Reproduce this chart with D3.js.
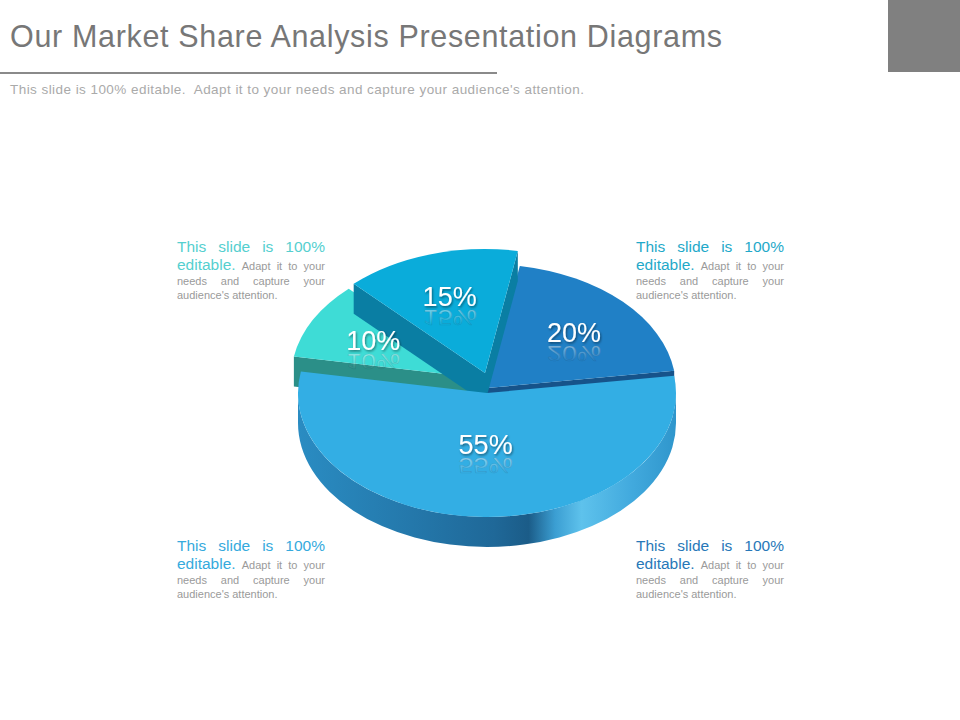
<!DOCTYPE html>
<html>
<head>
<meta charset="utf-8">
<script src="https://cdn.jsdelivr.net/npm/d3@7/dist/d3.min.js"></script>
<style>
	body { margin: 0; background: #fff; }
	svg { display: block; font-family: "Liberation Sans", Arial, sans-serif; }
</style>
</head>
<body>
<svg id="chart" width="960" height="720"></svg>
<script>
// slices, clockwise
var labels = ["20%", "55%", "10%", "15%"]
var shares = [20, 55, 10, 15]

// look of each slice (same order as above)
var topColors = ["#2080c6", "#33aee4", "#3edcd6", "#0aacda"]
var wallColors = ["#16538a", "#2179ad", "#2b8f88", "#0a7ea3"]
var shift = [[0, 0], [0, 5], [-7, -10], [-2, -15]]  // explode offset in px
var drawOrder = [0, 2, 3, 1]                       // back to front
var startDeg = 10

// colour of the heading line of the four note blocks
var noteColors = ["#55cfcf", "#1fa9c9", "#35aadd", "#2778b8"]

var svg = d3.select("#chart")
var cx = 487, cy = 388, rx = 189, ry = 124, depth = 30

var defs = svg.append("defs")

// shading of the front wall of the big slice
var wallGrad = defs.append("linearGradient")
	.attr("id", "wallGrad")
	.attr("gradientUnits", "userSpaceOnUse")
	.attr("x1", cx - rx).attr("x2", cx + rx).attr("y1", 0).attr("y2", 0)
var wallStops = [[0, "#2a8cc2"], [0.3, "#2478ab"], [0.52, "#1f6898"], [0.61, "#1b5c88"],
	[0.68, "#3b9ed2"], [0.75, "#5ec2ec"], [0.88, "#42aade"], [1, "#2f96cc"]]
wallStops.forEach(function(s) {
	wallGrad.append("stop").attr("offset", s[0]).attr("stop-color", s[1])
})

// fading reflection under the labels
var reflGrad = defs.append("linearGradient")
	.attr("id", "reflGrad")
	.attr("x1", 0).attr("x2", 0).attr("y1", 0).attr("y2", 1)
reflGrad.append("stop").attr("offset", 0.2).attr("stop-color", "#fff").attr("stop-opacity", 0)
reflGrad.append("stop").attr("offset", 1).attr("stop-color", "#fff").attr("stop-opacity", 0.55)

defs.append("filter").attr("id", "shadow")
	.attr("x", "-20%").attr("y", "-20%").attr("width", "140%").attr("height", "140%")
	.append("feDropShadow")
	.attr("dx", 1).attr("dy", 1.5).attr("stdDeviation", 1)
	.attr("flood-color", "#000").attr("flood-opacity", 0.45)

// header
svg.append("rect")
	.attr("x", 888).attr("y", 0).attr("width", 72).attr("height", 72)
	.attr("fill", "#808080")
svg.append("text")
	.attr("x", 10).attr("y", 47)
	.attr("font-size", 30.5)
	.attr("fill", "#777")
	.attr("textLength", 712)
	.attr("lengthAdjust", "spacing")
	.text("Our Market Share Analysis Presentation Diagrams")
svg.append("line")
	.attr("x1", 0).attr("x2", 497).attr("y1", 73).attr("y2", 73)
	.attr("stroke", "#8a8a8a").attr("stroke-width", 2)
svg.append("text")
	.attr("x", 10).attr("y", 94)
	.attr("font-size", 13.5)
	.attr("fill", "#aaa")
	.attr("textLength", 574)
	.attr("lengthAdjust", "spacing")
	.attr("xml:space", "preserve")
	.text("This slide is 100% editable.  Adapt it to your needs and capture your audience's attention.")

/*
 * Point on the tilted pie.
 * a: angle, r: fraction of radius, z: 0 top face, 1 bottom face, s: offset
 */
function pt(a, r, z, s) {
	var x = cx + s[0] + r * rx * Math.sin(a)
	var y = cy + s[1] - r * ry * Math.cos(a) + z * depth
	return x.toFixed(2) + "," + y.toFixed(2)
}

function topPath(d, s) {
	var large = d.endAngle - d.startAngle > Math.PI ? 1 : 0
	return "M" + pt(0, 0, 0, s) + "L" + pt(d.startAngle, 1, 0, s) +
		"A" + rx + "," + ry + " 0 " + large + " 1 " + pt(d.endAngle, 1, 0, s) + "Z"
}

// outer wall, only the part that faces the viewer
function outerPath(d, s) {
	var a0 = Math.max(d.startAngle, Math.PI / 2)
	var a1 = Math.min(d.endAngle, 3 * Math.PI / 2)
	if(a0 >= a1) return null
	var large = a1 - a0 > Math.PI ? 1 : 0
	return "M" + pt(a0, 1, 0, s) +
		"A" + rx + "," + ry + " 0 " + large + " 1 " + pt(a1, 1, 0, s) +
		"L" + pt(a1, 1, 1, s) +
		"A" + rx + "," + ry + " 0 " + large + " 0 " + pt(a0, 1, 1, s) + "Z"
}

function sidePath(a, s) {
	return "M" + pt(0, 0, 0, s) + "L" + pt(a, 1, 0, s) + "L" + pt(a, 1, 1, s) +
		"L" + pt(0, 0, 1, s) + "Z"
}

var start = startDeg * Math.PI / 180
var arcs = d3.pie()
	.sort(null)
	.startAngle(start)
	.endAngle(start + 2 * Math.PI)
	.value(function(d) { return d })(shares)

var pie = svg.append("g")
drawOrder.forEach(function(i) {
	var d = arcs[i], s = shift[i]
	var g = pie.append("g")
	// radial walls that face us
	if(Math.sin(d.startAngle) < -0.01)
		g.append("path").attr("d", sidePath(d.startAngle, s)).attr("fill", wallColors[i])
	if(Math.sin(d.endAngle) > 0.01)
		g.append("path").attr("d", sidePath(d.endAngle, s)).attr("fill", wallColors[i])
	var op = outerPath(d, s)
	if(op)
		g.append("path").attr("d", op)
			.attr("fill", i == 1 ? "url(#wallGrad)" : wallColors[i])
	g.append("path").attr("d", topPath(d, s)).attr("fill", topColors[i])
})

// labels, each with a faint mirrored copy underneath
arcs.forEach(function(d, i) {
	var a = (d.startAngle + d.endAngle) / 2
	var r = shares[i] > 30 ? 0.42 : 0.64
	var x = cx + shift[i][0] + r * rx * Math.sin(a)
	var y = cy + shift[i][1] - r * ry * Math.cos(a) + 9
	defs.append("text")
		.attr("id", "lbl" + i)
		.attr("text-anchor", "middle")
		.attr("font-size", 27)
		.text(labels[i])
	svg.append("use")
		.attr("href", "#lbl" + i)
		.attr("transform", "translate(" + x + "," + (y + 4) + ") scale(1,-0.8)")
		.attr("fill", "url(#reflGrad)")
		.attr("stroke", "rgba(40,60,80,0.18)")
		.attr("stroke-width", 0.8)
	svg.append("use")
		.attr("href", "#lbl" + i)
		.attr("transform", "translate(" + x + "," + y + ")")
		.attr("fill", "#fff")
		.attr("filter", "url(#shadow)")
})

/*
 * Note block with justified lines.
 * Each word: [text, big?]; last line is left aligned.
 */
var noteLines = [
	[["This", 1], ["slide", 1], ["is", 1], ["100%", 1]],
	[["editable.", 1], ["Adapt", 0], ["it", 0], ["to", 0], ["your", 0]],
	[["needs", 0], ["and", 0], ["capture", 0], ["your", 0]],
	[["audience's", 0], ["attention.", 0]]
]
var lineGap = [0, 18, 33, 47]

function note(x0, y0, color) {
	var w = 148
	var g = svg.append("g")
	noteLines.forEach(function(line, li) {
		var nodes = line.map(function(wd) {
			return g.append("text")
				.attr("y", y0 + lineGap[li])
				.attr("font-size", wd[1] ? 15.5 : 11)
				.attr("fill", wd[1] ? color : "#9a9a9a")
				.text(wd[0])
		})
		var widths = nodes.map(function(n) { return n.node().getComputedTextLength() })
		var total = d3.sum(widths)
		var gap = li == noteLines.length - 1 ? 3 : (w - total) / (nodes.length - 1)
		var x = x0
		nodes.forEach(function(n, k) {
			n.attr("x", x)
			x += widths[k] + gap
		})
	})
}

note(177, 252, noteColors[0])
note(636, 252, noteColors[1])
note(177, 551, noteColors[2])
note(636, 551, noteColors[3])
</script>
</body>
</html>
